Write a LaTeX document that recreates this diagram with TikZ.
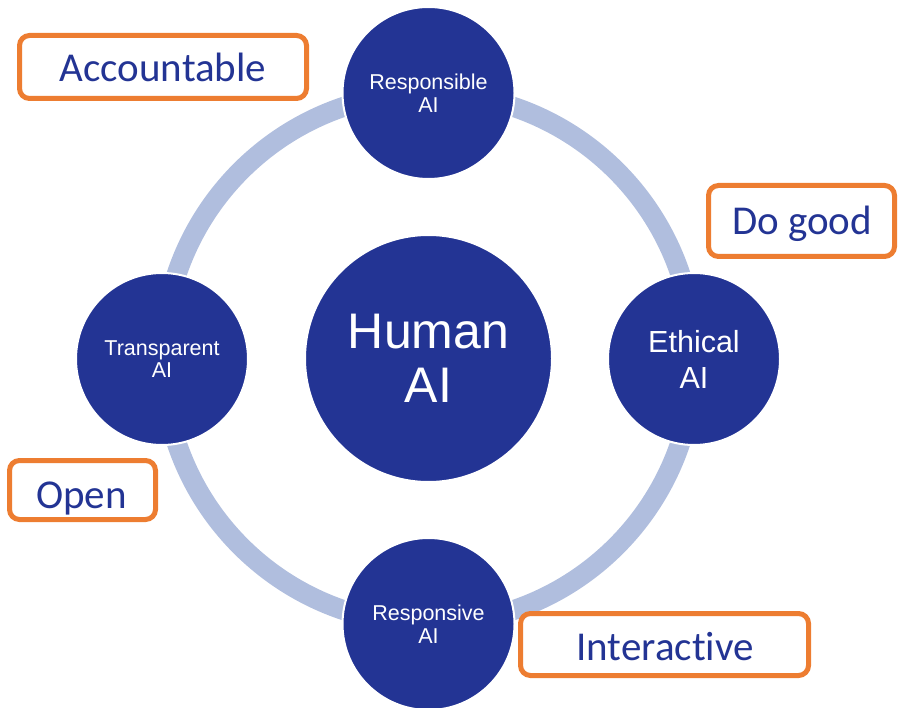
\documentclass[tikz,border=0pt]{standalone}
\usepackage{fontspec}
\setmainfont{Liberation Sans}
\newfontfamily\boxfont[Ligatures={NoCommon,NoRare}]{Carlito}
\definecolor{navy}{RGB}{35,52,148}
\definecolor{ringblue}{RGB}{176,190,222}
\definecolor{orangeline}{RGB}{237,125,49}
\tikzset{
  bigdot/.style={circle, fill=navy, draw=white, line width=2pt, inner sep=0pt, text=white, align=center},
  smalldot/.style={bigdot, minimum size=172pt, font=\fontsize{21.5}{22.5}\selectfont},
  obox/.style={draw=orangeline, line width=5pt, rounded corners=10pt, fill=white, inner sep=0pt},
  otext/.style={text=navy, font=\boxfont\fontsize{41}{45}\selectfont, inner sep=0pt, anchor=base},
  ringline/.style={draw=ringblue, line width=20pt}
}
\begin{document}
\begin{tikzpicture}[x=1pt,y=-1pt]
\useasboundingbox (0,0) rectangle (899,708);
\coordinate (c) at (428.5,358.5);
\draw[ringline] (c) circle (265.5);
\node[bigdot, minimum size=247pt, font=\fontsize{50}{54}\selectfont] (hub) at (c) {Human\\AI};
\node[smalldot] (top) at (428.5,93) {Responsible\\AI};
\node[smalldot] (bottom) at (428.5,624) {Responsive\\AI};
\node[smalldot] (left) at (162,359) {Transparent\\AI};
\node[smalldot, font=\fontsize{30.5}{36}\selectfont] (right) at (694,359) {Ethical\\AI};
% labels
\node[obox, minimum width=287pt, minimum height=63pt] (accbox) at (163,67) {};
\node[otext] (acc) at (163,82) {Accountable};
\node[obox, minimum width=186pt, minimum height=71pt] (goodbox) at (801.5,221) {};
\node[otext] (good) at (802,235) {Do good};
\node[obox, minimum width=146pt, minimum height=59pt] (openbox) at (82.5,490) {};
\node[otext] (open) at (81.5,508) {Open};
\node[obox, minimum width=288pt, minimum height=62pt] (intbox) at (664.5,644.5) {};
\node[otext] (int) at (665,660) {Interactive};
\end{tikzpicture}
\end{document}
